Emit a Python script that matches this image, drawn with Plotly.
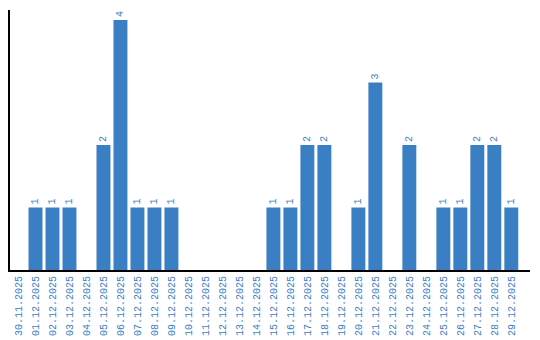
import plotly.graph_objects as go

dates = ["30.11.2025", "01.12.2025", "02.12.2025", "03.12.2025", "04.12.2025",
         "05.12.2025", "06.12.2025", "07.12.2025", "08.12.2025", "09.12.2025",
         "10.12.2025", "11.12.2025", "12.12.2025", "13.12.2025", "14.12.2025",
         "15.12.2025", "16.12.2025", "17.12.2025", "18.12.2025", "19.12.2025",
         "20.12.2025", "21.12.2025", "22.12.2025", "23.12.2025", "24.12.2025",
         "25.12.2025", "26.12.2025", "27.12.2025", "28.12.2025", "29.12.2025"]
counts = [0, 1, 1, 1, 0, 2, 4, 1, 1, 1, 0, 0, 0, 0, 0,
          1, 1, 2, 2, 0, 1, 3, 0, 2, 0, 1, 1, 2, 2, 1]

blue = "#3a7ec3"
FONT = "Liberation Mono"
labels = [str(v) if v > 0 else "" for v in counts]

fig = go.Figure(go.Bar(
    x=dates, y=counts, marker_color=blue, marker_line_width=0,
    text=labels, textposition="outside", textangle=-90,
    textfont=dict(family=FONT, size=10, color=blue),
    cliponaxis=False, width=0.82,
))
fig.update_layout(
    width=540, height=340, margin=dict(l=10, r=10, t=10, b=70, autoexpand=False),
    plot_bgcolor="white", paper_bgcolor="white", showlegend=False,
    font=dict(family=FONT, size=10, color=blue),
    uniformtext=dict(minsize=10, mode="show"),
)
fig.update_xaxes(type="category", range=[-0.5, 30.1], showgrid=False, automargin=False,
                 showline=True, linecolor="black", linewidth=2, ticks="",
                 tickangle=-90, tickfont=dict(family=FONT, size=10, color=blue))
fig.update_yaxes(range=[0, 4.16], showgrid=False, showline=True, linecolor="black",
                 linewidth=2, showticklabels=False, ticks="", zeroline=False, automargin=False)
fig.write_html("out.html")
